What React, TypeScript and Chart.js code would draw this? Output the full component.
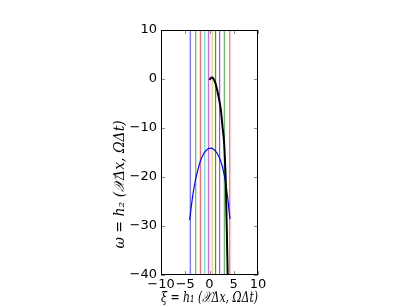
import React, { useEffect, useRef } from "react";
import { Chart, registerables } from "chart.js";

Chart.register(...registerables);

// vertical reference lines (x positions), matplotlib colour cycle
const verticalX = [-3.96, -2.85, -1.88, -0.98, -0.21, 0.56, 1.25, 2.08, 3.06, 4.17];
const verticalColors = [
  "rgba(0,0,255,0.6)",
  "rgba(0,128,0,0.6)",
  "rgba(255,0,0,0.6)",
  "rgba(0,191,191,0.6)",
  "rgba(191,0,191,0.6)",
  "rgba(191,191,0,0.6)",
  "rgba(0,0,0,0.55)",
  "rgba(0,0,255,0.6)",
  "rgba(0,128,0,0.6)",
  "rgba(255,0,0,0.6)",
];

// blue arc
const arcX = [-4.1, -3.27, -2.23, -1.19, 0.21, 1.6, 2.65, 3.54, 4.23];
const arcY = [-28.8, -22.6, -17.9, -15.2, -14.1, -15.2, -17.9, -22.6, -28.6];

// black curve
const curveX = [0, 0.25, 0.55, 0.9, 1.25, 1.8, 2.3, 2.65, 3.0, 3.2, 3.35, 3.55, 3.75];
const curveY = [-0.2, 0.2, 0.3, -0.1, -0.9, -3.3, -6.0, -9.4, -12.8, -16.9, -21, -30, -40];

const xTicks = [-10, -5, 0, 5, 10];
const yTicks = [-40, -30, -20, -10, 0, 10];
const xRange = [-10, 10];
const yRange = [-40, 10];

const xTitle = "ξ = h₁ (𝒳Δx, ΩΔt)";
const yTitle = "ω = h₂ (𝒳Δx, ΩΔt)";

const fmt = (v: number) => String(v).replace("-", "\u2212");

const framePlugin = {
  id: "frame",
  afterDatasetsDraw(chart: any) {
    const { ctx, chartArea } = chart;
    const xs = chart.scales.x;
    const ys = chart.scales.y;
    const L = 4;
    ctx.save();
    ctx.strokeStyle = "rgba(0,0,0,0.45)";
    ctx.lineWidth = 1;
    ctx.beginPath();
    xTicks.forEach((t) => {
      const px = Math.round(xs.getPixelForValue(t)) + 0.5;
      ctx.moveTo(px, chartArea.bottom);
      ctx.lineTo(px, chartArea.bottom - L);
      ctx.moveTo(px, chartArea.top);
      ctx.lineTo(px, chartArea.top + L);
    });
    yTicks.forEach((t) => {
      const py = Math.round(ys.getPixelForValue(t)) + 0.5;
      ctx.moveTo(chartArea.left, py);
      ctx.lineTo(chartArea.left + L, py);
      ctx.moveTo(chartArea.right, py);
      ctx.lineTo(chartArea.right - L, py);
    });
    ctx.stroke();
    ctx.strokeStyle = "#000";
    ctx.lineWidth = 1;
    ctx.strokeRect(
      Math.round(chartArea.left) + 0.5,
      Math.round(chartArea.top) + 0.5,
      Math.round(chartArea.right - chartArea.left) - 1,
      Math.round(chartArea.bottom - chartArea.top) - 1
    );
    // y-axis title (offset downward as in the reference)
    ctx.fillStyle = "#000";
    ctx.font = "italic 14px 'DejaVu Serif'";
    ctx.textAlign = "center";
    ctx.textBaseline = "middle";
    ctx.translate(chartArea.left - 41, chartArea.top + (chartArea.bottom - chartArea.top) * 0.63);
    ctx.rotate(-Math.PI / 2);
    ctx.fillText(yTitle, 0, 0);
    ctx.restore();
  },
};

export default function App() {
  const ref = useRef<HTMLCanvasElement>(null);

  useEffect(() => {
    if (!ref.current) return;
    const verticalSets = verticalX.map((x, i) => ({
      data: [
        { x, y: yRange[0] },
        { x, y: yRange[1] },
      ],
      borderColor: verticalColors[i],
      borderWidth: 1.2,
      pointRadius: 0,
      showLine: true,
      order: 3,
    }));
    const chart = new Chart(ref.current, {
      type: "scatter",
      data: {
        datasets: [
          {
            data: curveX.map((x, i) => ({ x, y: curveY[i] })),
            borderColor: "#000",
            borderWidth: 2,
            pointRadius: 0,
            showLine: true,
            tension: 0.4,
            order: 0,
          },
          {
            data: arcX.map((x, i) => ({ x, y: arcY[i] })),
            borderColor: "rgb(0,0,255)",
            borderWidth: 1.2,
            pointRadius: 0,
            showLine: true,
            tension: 0.4,
            order: 1,
          },
          ...verticalSets,
        ] as any,
      },
      options: {
        animation: false,
        responsive: false,
        layout: { padding: { left: 108, right: 151, top: 30, bottom: 0 } },
        plugins: { legend: { display: false }, tooltip: { enabled: false } },
        scales: {
          x: {
            type: "linear",
            min: xRange[0],
            max: xRange[1],
            afterBuildTicks: (s: any) => {
              s.ticks = xTicks.map((v) => ({ value: v }));
            },
            afterFit: (s: any) => {
              s.height = 32;
            },
            grid: { display: false, drawTicks: false },
            border: { display: false },
            ticks: {
              autoSkip: false,
              maxRotation: 0,
              padding: 2,
              color: "#000",
              font: { family: "DejaVu Sans", size: 13 },
              callback: (v: any) => fmt(v),
            },
            title: {
              display: true,
              text: xTitle,
              color: "#000",
              padding: { top: 0, bottom: 0 },
              font: { family: "DejaVu Serif", size: 15, style: "italic" },
            },
          },
          y: {
            type: "linear",
            min: yRange[0],
            max: yRange[1],
            afterBuildTicks: (s: any) => {
              s.ticks = yTicks.map((v) => ({ value: v }));
            },
            afterFit: (s: any) => {
              s.width = 53;
            },
            grid: { display: false, drawTicks: false },
            border: { display: false },
            ticks: {
              autoSkip: false,
              padding: 4,
              color: "#000",
              font: { family: "DejaVu Sans", size: 13 },
              callback: (v: any) => fmt(v),
            },
            title: { display: false },
          },
        },
      },
      plugins: [framePlugin],
    });
    return () => chart.destroy();
  }, []);

  return (
    <div style={{ position: "fixed", left: 0, top: 0, width: 409, height: 307, background: "#fff" }}>
      <canvas ref={ref} width={409} height={307} />
    </div>
  );
}
